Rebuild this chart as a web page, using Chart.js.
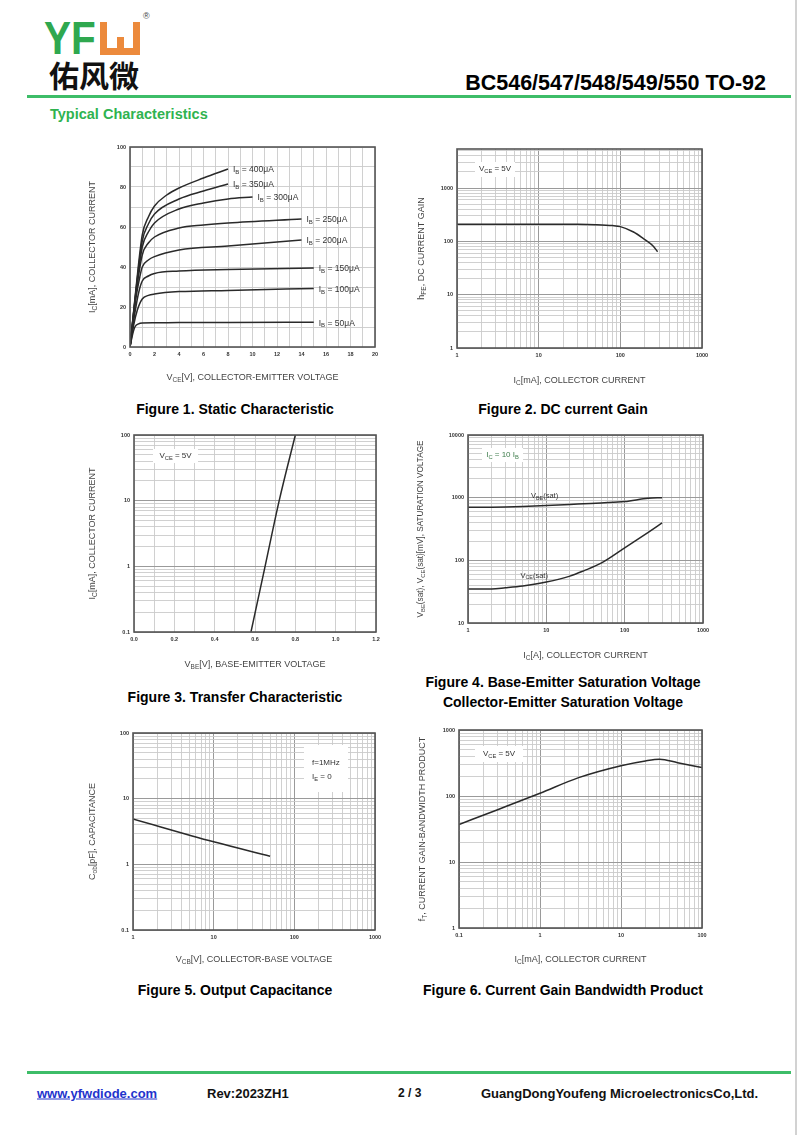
<!DOCTYPE html>
<html lang="en">
<head>
<meta charset="UTF-8">
<title>BC546/547/548/549/550 TO-92 - Typical Characteristics</title>
<script src="https://cdn.jsdelivr.net/npm/chart.js"></script>
<style>
  body { margin: 0; background: #fff; font-family: "Liberation Sans", Arial, sans-serif; }
  .page { position: relative; width: 800px; height: 1135px; overflow: hidden; background: #fff; }
  .abs { position: absolute; white-space: nowrap; line-height: 1; }
  .mid { transform: translate(-50%, -50%); }
  .rule { position: absolute; left: 27px; width: 764px; height: 3px; background: #3dbd68; }
  .cap { font-weight: bold; font-size: 14px; color: #000; }
  canvas { position: absolute; }
  .edge { position: absolute; left: 795px; top: 0; width: 2px; height: 1135px; background: #d2d2d2; }
</style>
</head>
<body>
<div class="page">
  <!-- logo -->
  <div class="abs" style="left:44px;top:15px;font-size:46px;font-weight:bold;color:#2fa84f;transform:scaleX(0.88);transform-origin:left top;">YF</div>
  <div class="abs" style="left:100px;top:22px;width:40px;height:33px;box-sizing:border-box;border:7px solid #ec8a3c;border-top:none;"></div>
  <div class="abs" style="left:116.5px;top:37px;width:7px;height:18px;background:#ec8a3c;"></div>
  <div class="abs" style="left:143px;top:12px;font-size:9px;color:#444;">®</div>
  <div class="abs" style="left:49px;top:59px;font-size:30px;font-weight:bold;font-family:'Noto Sans CJK SC';color:#111;">佑风微</div>

  <div class="abs" style="left:766px;top:84px;transform:translate(-100%,-50%);font-size:21.5px;font-weight:bold;color:#000;">BC546/547/548/549/550 TO-92</div>
  <div class="rule" style="top:95px;"></div>
  <div class="abs" style="left:50px;top:114px;transform:translateY(-50%);font-size:14.5px;font-weight:bold;color:#2fb350;">Typical Characteristics</div>

  <canvas id="fig1"></canvas>
  <canvas id="fig2"></canvas>
  <canvas id="fig3"></canvas>
  <canvas id="fig4"></canvas>
  <canvas id="fig5"></canvas>
  <canvas id="fig6"></canvas>

  <div class="abs mid cap" style="left:235px;top:409px;">Figure 1. Static Characteristic</div>
  <div class="abs mid cap" style="left:563px;top:409px;">Figure 2. DC current Gain</div>
  <div class="abs mid cap" style="left:235px;top:697px;">Figure 3. Transfer Characteristic</div>
  <div class="abs mid cap" style="left:563px;top:682px;">Figure 4. Base-Emitter Saturation Voltage</div>
  <div class="abs mid cap" style="left:563px;top:702px;">Collector-Emitter Saturation Voltage</div>
  <div class="abs mid cap" style="left:235px;top:990px;">Figure 5. Output Capacitance</div>
  <div class="abs mid cap" style="left:563px;top:990px;">Figure 6. Current Gain Bandwidth Product</div>

  <div class="rule" style="top:1071px;"></div>
  <div class="abs" style="left:37px;top:1093px;transform:translateY(-50%);font-size:13px;font-weight:bold;color:#2233cc;text-decoration:underline;">www.yfwdiode.com</div>
  <div class="abs" style="left:207px;top:1093px;transform:translateY(-50%);font-size:13px;font-weight:bold;color:#111;">Rev:2023ZH1</div>
  <div class="abs" style="left:398px;top:1093px;transform:translateY(-50%);font-size:12px;font-weight:bold;color:#111;">2 / 3</div>
  <div class="abs" style="left:481px;top:1093px;transform:translateY(-50%);font-size:13px;font-weight:bold;color:#111;">GuangDongYoufeng MicroelectronicsCo,Ltd.</div>
  <div class="edge"></div>
</div>

<script>
// ---------- data ----------

// Figure 1: IC[mA] vs VCE[V], one curve per base current (uA)
const ibSteps = [50, 100, 150, 200, 250, 300, 350, 400];
const vce50  = [0, 0.2, 0.4, 0.7, 1, 2, 4, 8, 15];
const ic50   = [0, 6, 10, 11.6, 12, 12.1, 12.2, 12.3, 12.4];
const vce100 = [0, 0.3, 0.6, 1, 1.5, 2, 4, 8, 15];
const ic100  = [0, 11, 18.5, 24, 25.8, 26.5, 27.7, 28.3, 29.3];
const vce150 = [0, 0.4, 0.7, 1, 1.5, 2, 4, 8, 15];
const ic150  = [0, 17, 27, 33, 35.5, 36.8, 38, 38.8, 39.5];
const vce200 = [0, 0.5, 0.8, 1, 1.5, 2, 4, 8, 14];
const ic200  = [0, 25, 35, 40, 43.5, 45.2, 48.5, 50.5, 53.5];
const vce250 = [0, 0.5, 1, 1.5, 2, 4, 6, 8, 14];
const ic250  = [0, 27, 46, 52, 55, 59.5, 61, 62, 64];
const vce300 = [0, 0.5, 1, 1.5, 2, 4, 6, 8, 10];
const ic300  = [0, 28, 50, 57.5, 62, 69, 72, 74, 75];
const vce350 = [0, 0.5, 1, 1.5, 2, 4, 6, 8];
const ic350  = [0, 29, 53, 61.5, 66.5, 74, 78, 81.5];
const vce400 = [0, 0.5, 1, 1.5, 2, 3, 4, 6, 8];
const ic400  = [0, 30, 56, 65, 70.5, 76, 79.5, 84.5, 89];

// Figure 2: hFE vs IC[mA]
const ic2  = [1, 10, 30, 50, 80, 100, 145, 190, 250, 286];
const hfe2 = [210, 210, 209, 206, 198, 189, 150, 114, 83, 64];

// Figure 3: IC[mA] vs VBE[V]
const vbe3 = [0.58, 0.65, 0.72, 0.80];
const ic3  = [0.1, 1, 10, 100];

// Figure 4: saturation voltages [mV] vs IC
const ic4    = [1, 2, 3, 5, 10, 20, 30, 50, 100, 200, 300];
const vbeSat = [700, 705, 712, 725, 750, 780, 800, 825, 865, 980, 1000];
const vceSat = [35, 35, 36.5, 39, 45, 56, 68, 90, 158, 280, 395];

// Figure 5: Cob[pF] vs VCB[V]
const vcb5 = [1, 10, 50];
const cob5 = [4.9, 2.2, 1.33];

// Figure 6: fT vs IC[mA]
const ic6 = [0.1, 0.3, 1, 3, 10, 20, 30, 50, 100];
const ft6 = [37, 62, 110, 190, 288, 340, 360, 320, 270];

// ---------- helpers ----------
const FONT = '"Liberation Sans", Arial, sans-serif';

function pts(xs, ys) { return xs.map((x, i) => ({ x: x, y: ys[i] })); }

function isDecade(v) {
  const l = Math.log10(v);
  return Math.abs(l - Math.round(l)) < 1e-6;
}

function tickValues(ax) {
  const out = [];
  if (ax.log) {
    for (let e = Math.floor(Math.log10(ax.min)); e <= Math.ceil(Math.log10(ax.max)); e++) {
      for (let m = 1; m < 10; m++) {
        const v = +(m * Math.pow(10, e)).toPrecision(4);
        if (v >= ax.min * 0.999 && v <= ax.max * 1.001) out.push(v);
      }
    }
  } else {
    const n = Math.round((ax.max - ax.min) / ax.step);
    for (let i = 0; i <= n; i++) out.push(+(ax.min + i * ax.step).toFixed(4));
  }
  return out;
}

function isLabelled(ax, v) {
  if (ax.log) return isDecade(v);
  return Math.abs(Math.round((v - ax.min) / ax.label) * ax.label - (v - ax.min)) < 1e-6;
}

function axisOpts(ax, isX) {
  return {
    type: ax.log ? 'logarithmic' : 'linear',
    min: ax.min,
    max: ax.max,
    border: { display: false },
    grid: {
      drawTicks: false,
      color: c => (c.tick && ax.log && isDecade(c.tick.value)) ? '#9a9a9a' : '#cbcbcb',
      lineWidth: c => (c.tick && ax.log && isDecade(c.tick.value)) ? 1 : 0.9
    },
    ticks: {
      autoSkip: false,
      maxRotation: 0,
      padding: 4,
      color: '#333',
      font: { family: FONT, size: 5.5, weight: 'bold' },
      callback: v => isLabelled(ax, v) ? (ax.fmt ? ax.fmt(v) : String(v)) : ''
    },
    afterBuildTicks: s => { s.ticks = tickValues(ax).map(v => ({ value: v })); },
    afterFit: s => { if (isX) s.height = 44; else s.width = 58; }
  };
}

function parseRich(str) {
  const parts = [];
  const re = /_\{([^}]*)\}/g;
  let last = 0, m;
  while ((m = re.exec(str))) {
    if (m.index > last) parts.push({ t: str.slice(last, m.index), sub: false });
    parts.push({ t: m[1], sub: true });
    last = re.lastIndex;
  }
  if (last < str.length) parts.push({ t: str.slice(last), sub: false });
  return parts;
}

// text with _{subscript} parts
function drawRich(ctx, str, x, y, size, align, color) {
  const parts = parseRich(str);
  let w = 0;
  parts.forEach(p => {
    ctx.font = (p.sub ? size * 0.72 : size) + 'px ' + FONT;
    p.w = ctx.measureText(p.t).width;
    w += p.w;
  });
  let cx = align === 'center' ? x - w / 2 : x;
  ctx.fillStyle = color || '#444';
  ctx.textAlign = 'left';
  ctx.textBaseline = 'middle';
  parts.forEach(p => {
    ctx.font = (p.sub ? size * 0.72 : size) + 'px ' + FONT;
    ctx.fillText(p.t, cx, p.sub ? y + size * 0.3 : y);
    cx += p.w;
  });
}

const sheetSpecs = {};

const sheetPlugin = {
  id: 'sheet',
  beforeDatasetsDraw(chart) {
    const s = sheetSpecs[chart.canvas.id];
    const a = chart.chartArea, ctx = chart.ctx;
    ctx.save();
    (s.boxes || []).forEach(b => {
      ctx.fillStyle = '#fff';
      ctx.fillRect(a.left + b.x, a.top + b.y, b.w, b.h);
      b.lines.forEach(l => {
        const left = l.dx != null;
        drawRich(ctx, l.t, a.left + b.x + (left ? l.dx : b.w / 2), a.top + b.y + l.dy, 8,
          left ? 'left' : 'center', b.color || '#333');
      });
    });
    ctx.restore();
  },
  afterDatasetsDraw(chart) {
    const s = sheetSpecs[chart.canvas.id];
    const a = chart.chartArea, ctx = chart.ctx;
    ctx.save();
    // plot frame
    ctx.strokeStyle = '#555';
    ctx.lineWidth = 1.6;
    ctx.strokeRect(a.left, a.top, a.right - a.left, a.bottom - a.top);
    // labels at curve ends
    if (s.endLabels) {
      chart.data.datasets.forEach((ds, i) => {
        const meta = chart.getDatasetMeta(i);
        const p = meta.data[meta.data.length - 1];
        drawRich(ctx, ds.label, p.x + 5, p.y + 1, 8.5, 'left', '#333');
      });
    }
    // labels anchored to data values
    (s.notes || []).forEach(n => {
      const x = chart.scales.x.getPixelForValue(n.x);
      const y = chart.scales.y.getPixelForValue(n.y);
      drawRich(ctx, n.t, x, y, 7.5, 'center', '#333');
    });
    // axis titles
    drawRich(ctx, s.xTitle, (a.left + a.right) / 2, a.bottom + s.xOff, 9, 'center', '#444');
    ctx.translate(a.left - s.yOff, (a.top + a.bottom) / 2);
    ctx.rotate(-Math.PI / 2);
    drawRich(ctx, s.yTitle, 0, 0, s.ySize || 9, 'center', '#444');
    ctx.restore();
  }
};

// area = plot rectangle on the page [left, top, right, bottom]
function plotChart(id, area, xAx, yAx, datasets, spec) {
  const [pl, pt, pr, pb] = area;
  const padL = 58, padT = 8, padR = 14, axisH = 44;
  const cv = document.getElementById(id);
  cv.width = (pr - pl) + padL + padR;
  cv.height = (pb - pt) + padT + axisH;
  cv.style.left = (pl - padL) + 'px';
  cv.style.top = (pt - padT) + 'px';
  sheetSpecs[id] = spec;
  new Chart(cv, {
    type: 'line',
    data: { datasets: datasets },
    options: {
      responsive: false,
      animation: false,
      devicePixelRatio: 1,
      layout: { padding: { top: padT, right: padR, left: 0, bottom: 0 } },
      plugins: { legend: { display: false }, tooltip: { enabled: false } },
      elements: {
        point: { radius: 0 },
        line: { borderColor: '#2a2a2a', borderWidth: 1.5, cubicInterpolationMode: 'monotone' }
      },
      scales: { x: axisOpts(xAx, true), y: axisOpts(yAx, false) }
    },
    plugins: [sheetPlugin]
  });
}

function curve(xs, ys, label) {
  return { label: label || '', data: pts(xs, ys), fill: false };
}

// ---------- figures ----------
const fig1Sets = [
  [vce400, ic400], [vce350, ic350], [vce300, ic300], [vce250, ic250],
  [vce200, ic200], [vce150, ic150], [vce100, ic100], [vce50, ic50]
];
const ibLabelOrder = ibSteps.slice().reverse();

plotChart('fig1', [130, 147, 375, 347],
  { min: 0, max: 20, step: 1, label: 2 },
  { min: 0, max: 100, step: 10, label: 20 },
  fig1Sets.map((s, i) => curve(s[0], s[1], 'I_{B} = ' + ibLabelOrder[i] + 'μA')),
  { xTitle: 'V_{CE}[V], COLLECTOR-EMITTER VOLTAGE', yTitle: 'I_{C}[mA], COLLECTOR CURRENT',
    xOff: 31, yOff: 37, endLabels: true });

plotChart('fig2', [457, 149, 702, 348],
  { log: true, min: 1, max: 1000 },
  { log: true, min: 1, max: 5400 },
  [curve(ic2, hfe2)],
  { xTitle: 'I_{C}[mA], COLLECTOR CURRENT', yTitle: 'h_{FE}, DC CURRENT GAIN',
    xOff: 33, yOff: 35,
    boxes: [{ x: 18, y: 13, w: 40, h: 15, lines: [{ t: 'V_{CE} = 5V', dy: 7 }] }] });

plotChart('fig3', [134, 435, 376, 632],
  { min: 0, max: 1.2, step: 0.1, label: 0.2, fmt: v => v.toFixed(1) },
  { log: true, min: 0.1, max: 100 },
  [curve(vbe3, ic3)],
  { xTitle: 'V_{BE}[V], BASE-EMITTER VOLTAGE', yTitle: 'I_{C}[mA], COLLECTOR CURRENT',
    xOff: 33, yOff: 41,
    boxes: [{ x: 19, y: 14, w: 45, h: 14, lines: [{ t: 'V_{CE} = 5V', dy: 7 }] }] });

plotChart('fig4', [468, 435, 703, 623],
  { log: true, min: 1, max: 1000 },
  { log: true, min: 10, max: 10000 },
  [curve(ic4, vbeSat), curve(ic4, vceSat)],
  { xTitle: 'I_{C}[A], COLLECTOR CURRENT', yTitle: 'V_{BE}(sat), V_{CE}(sat)[mV], SATURATION VOLTAGE',
    ySize: 8.2, xOff: 33, yOff: 47,
    boxes: [{ x: 14, y: 13, w: 41, h: 14, color: '#3f7d4c', lines: [{ t: 'I_{C} = 10 I_{B}', dy: 7 }] }],
    notes: [{ x: 9.5, y: 1060, t: 'V_{BE}(sat)' }, { x: 7, y: 57, t: 'V_{CE}(sat)' }] });

plotChart('fig5', [133, 733, 375, 930],
  { log: true, min: 1, max: 1000 },
  { log: true, min: 0.1, max: 100 },
  [curve(vcb5, cob5)],
  { xTitle: 'V_{CB}[V], COLLECTOR-BASE VOLTAGE', yTitle: 'C_{ob}[pF], CAPACITANCE',
    xOff: 30, yOff: 40,
    boxes: [{ x: 171, y: 12, w: 44, h: 47, lines: [{ t: 'f=1MHz', dx: 8, dy: 18 }, { t: 'I_{E} = 0', dx: 8, dy: 32 }] }] });

plotChart('fig6', [459, 730, 702, 928],
  { log: true, min: 0.1, max: 100 },
  { log: true, min: 1, max: 1000 },
  [curve(ic6, ft6)],
  { xTitle: 'I_{C}[mA], COLLECTOR CURRENT', yTitle: 'f_{T}, CURRENT GAIN-BANDWIDTH PRODUCT',
    xOff: 32, yOff: 36,
    boxes: [{ x: 16, y: 16, w: 48, h: 16, lines: [{ t: 'V_{CE} = 5V', dy: 8 }] }] });
</script>
</body>
</html>
